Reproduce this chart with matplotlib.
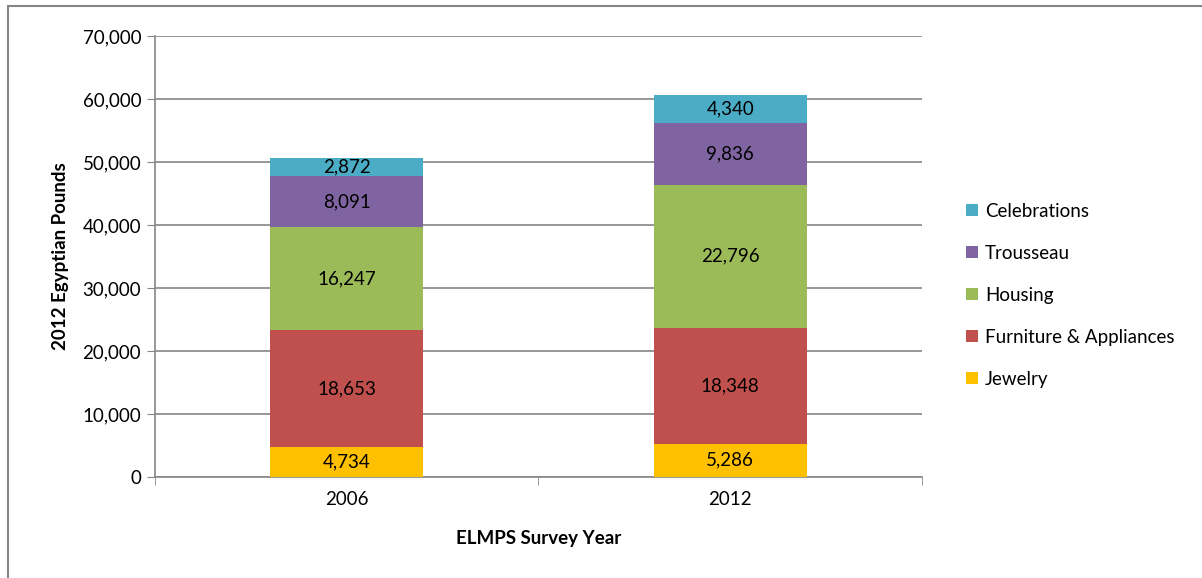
import matplotlib.pyplot as plt
from matplotlib.patches import Rectangle
from matplotlib.ticker import FuncFormatter

plt.rcParams['font.family'] = ['Lato', 'DejaVu Sans']

years = ["2006", "2012"]
categories = ["Jewelry", "Furniture & Appliances", "Housing", "Trousseau", "Celebrations"]
jewelry = [4734, 5286]
furniture = [18653, 18348]
housing = [16247, 22796]
trousseau = [8091, 9836]
celebrations = [2872, 4340]
colors = ["#FFC000", "#C0504D", "#9BBB59", "#8064A2", "#4BACC6"]

series = [jewelry, furniture, housing, trousseau, celebrations]
fs = 13.5

fig = plt.figure(figsize=(12.02, 5.78), dpi=100)
ax = fig.add_axes([0.129, 0.1747, 0.638, 0.763])

x = list(range(len(years)))
bottoms = [0, 0]
handles = []
for name, vals, col in zip(categories, series, colors):
    bars = ax.bar(x, vals, width=0.4, bottom=bottoms, color=col, label=name, zorder=3)
    handles.append(bars)
    for xi, v, b in zip(x, vals, bottoms):
        ax.text(xi, b + v / 2, f"{v:,}", ha="center", va="center", fontsize=fs, color="black", zorder=4)
    bottoms = [b + v for b, v in zip(bottoms, vals)]

ax.set_xlim(-0.5, 1.5)
ax.set_ylim(0, 70000)
ax.set_yticks(range(0, 70001, 10000))
ax.yaxis.set_major_formatter(FuncFormatter(lambda v, p: f"{int(v):,}"))
ax.set_xticks(x)
ax.set_xticklabels(years)
ax.set_xticks([-0.5, 0.5, 1.5], minor=True)
ax.tick_params(axis="x", which="major", length=0, pad=10, labelsize=fs)
ax.tick_params(axis="x", which="minor", length=6, color="#868686", direction="out")
ax.tick_params(axis="y", length=6, color="#868686", direction="out", labelsize=fs, pad=4)

ax.grid(axis="y", color="#868686", linewidth=1.2, zorder=0)
for s in ["top", "right"]:
    ax.spines[s].set_visible(False)
for s in ["left", "bottom"]:
    ax.spines[s].set_color("#868686")
    ax.spines[s].set_linewidth(1.2)

ax.set_ylabel("2012 Egyptian Pounds", fontsize=fs, fontweight="bold", labelpad=10)
ax.set_xlabel("ELMPS Survey Year", fontsize=fs, fontweight="bold", labelpad=16)

fig.legend(handles[::-1], categories[::-1], loc="center left",
           bbox_to_anchor=(0.790, 0.489), frameon=False, fontsize=fs,
           handlelength=0.6, handleheight=0.6, handletextpad=0.4, labelspacing=1.33)

# outer chart border
fig.patches.append(Rectangle((8 / 1202, -0.1), 1.2, 1 - 6 / 578 + 0.1, transform=fig.transFigure,
                             fill=False, edgecolor="#868686", linewidth=1.5))

fig.savefig("out.png", dpi=100)
